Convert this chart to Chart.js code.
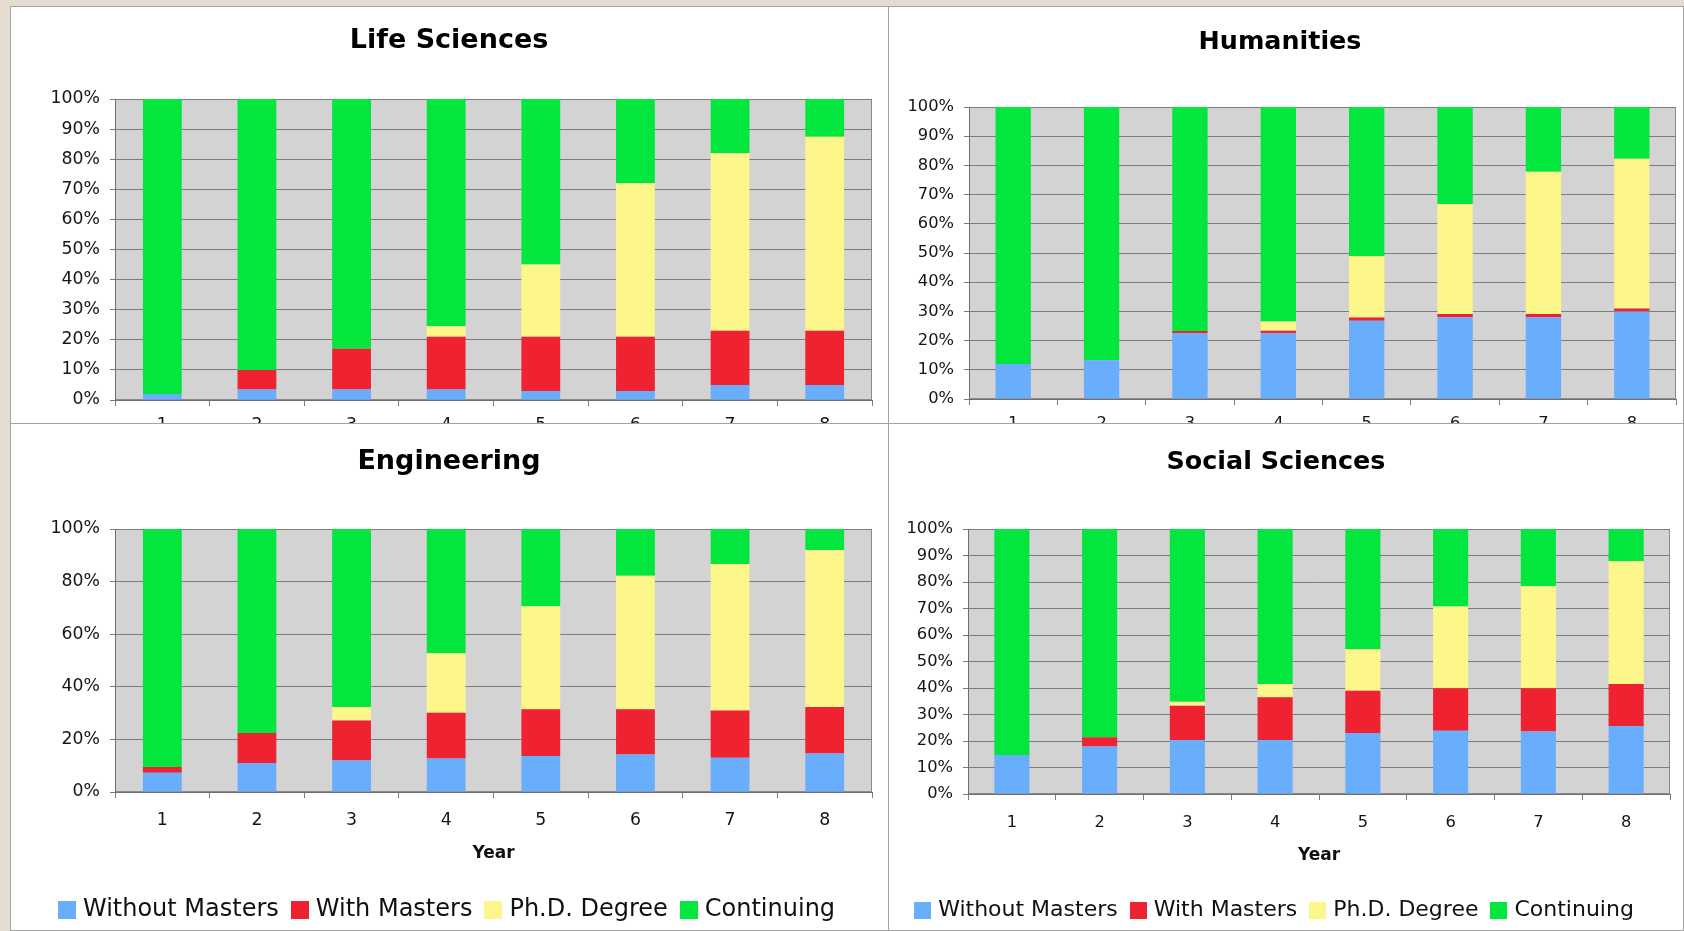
<!DOCTYPE html>
<html>
<head>
<meta charset="utf-8">
<title>Outcomes by year of study</title>
<script src="https://cdn.jsdelivr.net/npm/chart.js@4.4.1/dist/chart.umd.min.js"></script>
<style>
  html, body { margin: 0; padding: 0; }
  body { width: 1684px; height: 931px; background: #e4dccf; position: relative; overflow: hidden; }
  .panel { position: absolute; background: #fff; border: 1px solid #a3a3a3; box-sizing: border-box; }
  .clip { position: absolute; overflow: hidden; }
  .clip > div { position: absolute; }
</style>
</head>
<body>
<div class="panel" style="left:10px;top:6px;width:879px;height:418px"></div>
<div class="panel" style="left:888px;top:6px;width:796px;height:418px"></div>
<div class="panel" style="left:10px;top:423px;width:879px;height:508px"></div>
<div class="panel" style="left:888px;top:423px;width:796px;height:508px"></div>

<div class="clip" style="left:11px;top:7px;width:877px;height:416px">
  <div style="left:0;top:0;width:877px;height:500px"><canvas id="life"></canvas></div>
</div>
<div class="clip" style="left:889px;top:7px;width:794px;height:416px">
  <div style="left:-5px;top:0;width:800px;height:500px"><canvas id="hum"></canvas></div>
</div>
<div class="clip" style="left:11px;top:424px;width:877px;height:507px">
  <div style="left:0;top:-1px;width:877px;height:508px"><canvas id="eng"></canvas></div>
</div>
<div class="clip" style="left:889px;top:424px;width:794px;height:507px">
  <div style="left:-7px;top:-1px;width:802px;height:508px"><canvas id="soc"></canvas></div>
</div>

<script>
const years = ['1', '2', '3', '4', '5', '6', '7', '8']
const seriesNames = ['Without Masters', 'With Masters', 'Ph.D. Degree', 'Continuing']

// percentages
const lifeWithout = [2, 3.5, 3.5, 3.5, 3, 3, 5, 5]
const lifeWith = [0, 6.5, 13.5, 17.5, 18, 18, 18, 18]
const lifePhd = [0, 0, 0, 3.5, 24, 51, 59, 64.5]
const lifeCont = [98, 90, 83, 75.5, 55, 28, 18, 12.5]

const humWithout = [12, 13.3, 22.5, 22.5, 26.8, 28, 28, 30]
const humWith = [0, 0, 0.8, 0.9, 1.1, 1.1, 1.1, 1]
const humPhd = [0, 0, 0, 3.1, 21, 37.6, 48.7, 51.3]
const humCont = [88, 86.7, 76.7, 73.5, 51.1, 33.3, 22.2, 17.7]

const engWithout = [7.3, 11, 12, 12.7, 13.7, 14.3, 13, 14.6]
const engWith = [2.2, 11.4, 15.2, 17.4, 17.8, 17.2, 18, 17.7]
const engPhd = [0, 0, 5.1, 22.7, 39.1, 50.7, 55.7, 59.7]
const engCont = [90.5, 77.6, 67.7, 47.2, 29.4, 17.8, 13.3, 8]

const socWithout = [14.7, 17.9, 20.4, 20.4, 23, 23.9, 23.6, 25.7]
const socWith = [0, 3.5, 12.9, 16.1, 16, 16, 16.3, 15.8]
const socPhd = [0, 0, 1.5, 5, 15.6, 30.9, 38.5, 46.3]
const socCont = [85.3, 78.6, 65.2, 58.5, 45.4, 29.2, 21.6, 12.2]

const colors = ['#69adfd', '#ee2231', '#fdf68a', '#02e63d']

Chart.defaults.font.family = "'DejaVu Sans', Verdana, sans-serif"
Chart.defaults.color = '#151515'

// gray plot area like the old excel charts
const plotBackground = {
  id: 'plotBackground',
  beforeDraw(chart) {
    const { ctx, chartArea: a } = chart
    ctx.save()
    ctx.fillStyle = '#d3d3d3'
    ctx.fillRect(a.left, a.top, a.width, a.height)
    ctx.strokeStyle = '#8a8a8a'
    ctx.lineWidth = 1
    ctx.strokeRect(a.left + 0.5, a.top + 0.5, a.width - 1, a.height - 1)
    ctx.restore()
  }
}

// square swatch used as legend point style, so the gap to the text can be tighter
function swatch(color, size) {
  const c = document.createElement('canvas')
  c.width = size
  c.height = size
  const g = c.getContext('2d')
  g.fillStyle = color
  g.fillRect(0, 0, size, size)
  return c
}

function makeChart(id, title, values, lay) {
  const titleLH = lay.titleSize * 1.2
  let padBottom = 0
  let xBottom = lay.height
  let legendPad = 12
  let styleW = 8
  if (lay.legendY) {
    // excel puts ~7px between swatch and text, chart.js uses fontSize / 2
    styleW = 2 * (7 - lay.legendSize / 2 + lay.box / 2)
    legendPad = 12 + (lay.box - styleW) / 2
    const legendTop = lay.legendY - legendPad - lay.legendSize / 2
    const legendH = lay.legendSize + legendPad + 10
    padBottom = lay.height - legendTop - legendH
    xBottom = legendTop
  }
  const xHeight = xBottom - lay.plotBottom
  const swatches = colors.map(c => swatch(c, lay.box || 18))

  const datasets = values.map((data, i) => ({
    label: seriesNames[i],
    data: data,
    backgroundColor: colors[i],
    borderWidth: 0,
    categoryPercentage: 1,
    barPercentage: lay.barPct
  }))

  return new Chart(document.getElementById(id), {
    type: 'bar',
    data: { labels: years, datasets: datasets },
    plugins: [plotBackground],
    options: {
      responsive: true,
      maintainAspectRatio: false,
      animation: false,
      layout: { padding: { left: lay.padLeft, right: lay.padRight, top: 0, bottom: padBottom } },
      plugins: {
        title: {
          display: true,
          text: title,
          color: '#000',
          font: { size: lay.titleSize, weight: 'bold' },
          padding: { top: lay.titleY - titleLH / 2, bottom: lay.plotTop - lay.titleY - titleLH / 2 }
        },
        legend: {
          display: !!lay.legendY,
          position: 'bottom',
          labels: {
            usePointStyle: true,
            pointStyleWidth: styleW,
            boxHeight: lay.box,
            padding: legendPad,
            color: '#111',
            font: { size: lay.legendSize },
            generateLabels(chart) {
              const items = Chart.defaults.plugins.legend.labels.generateLabels(chart)
              items.forEach((item, i) => { item.pointStyle = swatches[i] })
              return items
            }
          }
        },
        tooltip: { enabled: false }
      },
      scales: {
        x: {
          stacked: true,
          grid: { drawOnChartArea: false, tickLength: 6, color: '#7a7a7a', offset: true },
          border: { color: '#6f6f6f' },
          ticks: {
            padding: lay.xLabelY - lay.plotBottom - 6 - lay.tickSize * 0.6,
            font: { size: lay.tickSize }
          },
          title: {
            display: !!lay.yearY,
            text: 'Year',
            color: '#111',
            font: { size: 17, weight: 'bold' },
            padding: { top: 0, bottom: lay.yearY ? xBottom - lay.yearY - 10.2 : 0 }
          },
          afterFit(scale) { scale.height = xHeight }
        },
        y: {
          stacked: true,
          min: 0,
          max: 100,
          ticks: {
            stepSize: lay.step,
            padding: 10,
            font: { size: lay.tickSize },
            callback: v => v + '%'
          },
          grid: { color: '#7c7c7c', tickLength: 5 },
          border: { color: '#6f6f6f' },
          afterFit(scale) { scale.width = lay.yAxisW }
        }
      }
    }
  })
}

const lifeLayout = { height: 500, padLeft: 15, padRight: 16, yAxisW: 89, titleSize: 27, titleY: 34,
  plotTop: 92, plotBottom: 393, tickSize: 17.3, xLabelY: 419, step: 10, barPct: 0.41 }
const humLayout = { height: 500, padLeft: 0, padRight: 8, yAxisW: 85, titleSize: 25.4, titleY: 35,
  plotTop: 100, plotBottom: 392, tickSize: 16.3, xLabelY: 417, step: 10, barPct: 0.4 }
const engLayout = { height: 508, padLeft: 15, padRight: 16, yAxisW: 89, titleSize: 27, titleY: 38.5,
  plotTop: 106, plotBottom: 369, tickSize: 17.3, xLabelY: 398, yearY: 431, legendY: 487,
  legendSize: 24, box: 18, step: 20, barPct: 0.41 }
const socLayout = { height: 508, padLeft: 0, padRight: 14, yAxisW: 86, titleSize: 25.4, titleY: 39.5,
  plotTop: 106, plotBottom: 371, tickSize: 16.3, xLabelY: 400, yearY: 433, legendY: 487,
  legendSize: 22, box: 17, step: 10, barPct: 0.4 }

makeChart('life', 'Life Sciences', [lifeWithout, lifeWith, lifePhd, lifeCont], lifeLayout)
makeChart('hum', 'Humanities', [humWithout, humWith, humPhd, humCont], humLayout)
makeChart('eng', 'Engineering', [engWithout, engWith, engPhd, engCont], engLayout)
makeChart('soc', 'Social Sciences', [socWithout, socWith, socPhd, socCont], socLayout)
</script>
</body>
</html>
